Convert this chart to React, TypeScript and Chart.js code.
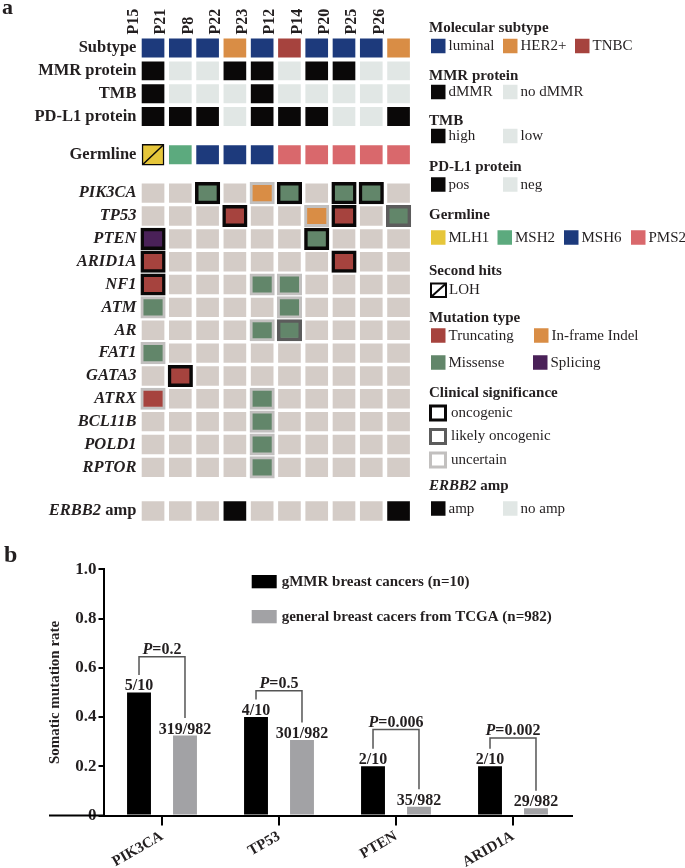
import React, { useEffect, useRef } from 'react';
import { Chart, registerables } from 'chart.js';

Chart.register(...registerables);

const FONT = '"Liberation Serif", "Times New Roman", Times, serif';
const INK = '#231f20';

// ---------------- Panel a data ----------------
const patients = ['P15', 'P21', 'P8', 'P22', 'P23', 'P12', 'P14', 'P20', 'P25', 'P26'];
const subtype = ['luminal', 'luminal', 'luminal', 'HER2+', 'luminal', 'TNBC', 'luminal', 'luminal', 'luminal', 'HER2+'];
const mmrProtein = ['dMMR', 'no dMMR', 'no dMMR', 'dMMR', 'dMMR', 'no dMMR', 'dMMR', 'dMMR', 'no dMMR', 'no dMMR'];
const tmb = ['high', 'low', 'low', 'low', 'high', 'low', 'low', 'low', 'low', 'low'];
const pdl1 = ['pos', 'pos', 'pos', 'neg', 'pos', 'pos', 'pos', 'neg', 'neg', 'pos'];
const germline = ['MLH1', 'MSH2', 'MSH6', 'MSH6', 'MSH6', 'PMS2', 'PMS2', 'PMS2', 'PMS2', 'PMS2'];
const secondHitLOH = ['P15'];
const genes = ['PIK3CA', 'TP53', 'PTEN', 'ARID1A', 'NF1', 'ATM', 'AR', 'FAT1', 'GATA3', 'ATRX', 'BCL11B', 'POLD1', 'RPTOR'];
// [gene, patient, mutation type, clinical significance]
const mutations: [string, string, string, string][] = [
  ['PIK3CA', 'P8', 'Missense', 'oncogenic'],
  ['PIK3CA', 'P23', 'In-frame Indel', 'uncertain'],
  ['PIK3CA', 'P12', 'Missense', 'oncogenic'],
  ['PIK3CA', 'P20', 'Missense', 'oncogenic'],
  ['PIK3CA', 'P25', 'Missense', 'oncogenic'],
  ['TP53', 'P22', 'Truncating', 'oncogenic'],
  ['TP53', 'P14', 'In-frame Indel', 'uncertain'],
  ['TP53', 'P20', 'Truncating', 'oncogenic'],
  ['TP53', 'P26', 'Missense', 'likely oncogenic'],
  ['PTEN', 'P15', 'Splicing', 'oncogenic'],
  ['PTEN', 'P14', 'Missense', 'oncogenic'],
  ['ARID1A', 'P15', 'Truncating', 'oncogenic'],
  ['ARID1A', 'P20', 'Truncating', 'oncogenic'],
  ['NF1', 'P15', 'Truncating', 'oncogenic'],
  ['NF1', 'P23', 'Missense', 'uncertain'],
  ['NF1', 'P12', 'Missense', 'uncertain'],
  ['ATM', 'P15', 'Missense', 'uncertain'],
  ['ATM', 'P12', 'Missense', 'uncertain'],
  ['AR', 'P23', 'Missense', 'uncertain'],
  ['AR', 'P12', 'Missense', 'likely oncogenic'],
  ['FAT1', 'P15', 'Missense', 'uncertain'],
  ['GATA3', 'P21', 'Truncating', 'oncogenic'],
  ['ATRX', 'P15', 'Truncating', 'uncertain'],
  ['ATRX', 'P23', 'Missense', 'uncertain'],
  ['BCL11B', 'P23', 'Missense', 'uncertain'],
  ['POLD1', 'P23', 'Missense', 'uncertain'],
  ['RPTOR', 'P23', 'Missense', 'uncertain'],
];
const erbb2Amp = ['no amp', 'no amp', 'no amp', 'amp', 'no amp', 'no amp', 'no amp', 'no amp', 'no amp', 'amp'];

// ---------------- Panel b data ----------------
const genesB = ['PIK3CA', 'TP53', 'PTEN', 'ARID1A'];
const gmmrMutated = [5, 4, 2, 2];
const gmmrTotal = 10;
const tcgaMutated = [319, 301, 35, 29];
const tcgaTotal = 982;
const pValues = ['0.2', '0.5', '0.006', '0.002'];
const bracketLevels = [0.645, 0.507, 0.349, 0.315];
const seriesNames = ['gMMR breast cancers (n=10)', 'general breast cacers from TCGA (n=982)'];

// ---------------- Styles ----------------
const BLACK = '#0a0808';
const LIGHT = '#e1e7e5';
const EMPTY = '#d4ccc7';
const subtypeColors: Record<string, string> = { luminal: '#1d3a7c', 'HER2+': '#d98d45', TNBC: '#a6433e' };
const mmrColors: Record<string, string> = { dMMR: BLACK, 'no dMMR': LIGHT };
const tmbColors: Record<string, string> = { high: BLACK, low: LIGHT };
const pdl1Colors: Record<string, string> = { pos: BLACK, neg: LIGHT };
const germlineColors: Record<string, string> = { MLH1: '#e6c63a', MSH2: '#5caa7e', MSH6: '#1d3a7c', PMS2: '#d9686c' };
const mutationColors: Record<string, string> = { Truncating: '#a6433e', 'In-frame Indel': '#d98d45', Missense: '#62866a', Splicing: '#4a2158' };
const significanceBorders: Record<string, string> = { oncogenic: BLACK, 'likely oncogenic': '#5c5c5c', uncertain: '#c2c0bf' };
const ampCellColors: Record<string, string> = { amp: BLACK, 'no amp': EMPTY };
const ampLegendColors: Record<string, string> = { amp: BLACK, 'no amp': LIGHT };
const GRAY_BAR = '#a2a2a5';

// layout of rows (row index units, top to bottom)
const TOP_ROW_POS = [0, 1, 2, 3, 4.67];
const GENE_ROW_START = 6.35;
const ERBB2_ROW_POS = 20.26;
const ROW_POS = [...TOP_ROW_POS, ...genes.map((_, i) => GENE_ROW_START + i), ERBB2_ROW_POS];
const ROW_LABELS = ['Subtype', 'MMR protein', 'TMB', 'PD-L1 protein', 'Germline', ...genes, 'ERBB2 amp'];

function buildCells() {
  const normal = { data: [] as any[], bg: [] as string[], bc: [] as string[], bw: [] as number[] };
  const bordered = { data: [] as any[], bg: [] as string[], bc: [] as string[], bw: [] as number[] };
  const lohIdx: number[] = [];
  const add = (t: any, p: string, pos: number, half: number, fill: string, border: string, w: number) => {
    t.data.push({ x: p, y: [pos - half, pos + half] });
    t.bg.push(fill);
    t.bc.push(border);
    t.bw.push(w);
  };
  const topRows: [string[], Record<string, string>][] = [
    [subtype, subtypeColors],
    [mmrProtein, mmrColors],
    [tmb, tmbColors],
    [pdl1, pdl1Colors],
  ];
  topRows.forEach(([vals, cmap], r) => {
    patients.forEach((p, i) => add(normal, p, TOP_ROW_POS[r], 0.4, cmap[vals[i]], cmap[vals[i]], 0));
  });
  patients.forEach((p, i) => {
    if (secondHitLOH.includes(p)) {
      lohIdx.push(normal.data.length);
      add(normal, p, TOP_ROW_POS[4], 0.46, germlineColors[germline[i]], BLACK, 1.5);
    } else {
      add(normal, p, TOP_ROW_POS[4], 0.4, germlineColors[germline[i]], germlineColors[germline[i]], 0);
    }
  });
  genes.forEach((g, gi) => {
    const pos = GENE_ROW_START + gi;
    patients.forEach((p) => {
      const m = mutations.find((mm) => mm[0] === g && mm[1] === p);
      if (!m) add(normal, p, pos, 0.41, EMPTY, EMPTY, 0);
      else add(bordered, p, pos, 0.47, mutationColors[m[2]], significanceBorders[m[3]], m[3] === 'uncertain' ? 3 : 3.5);
    });
  });
  patients.forEach((p, i) => add(normal, p, ERBB2_ROW_POS, 0.41, ampCellColors[erbb2Amp[i]], ampCellColors[erbb2Amp[i]], 0));
  return { normal, bordered, lohIdx };
}

function richText(ctx: CanvasRenderingContext2D, x: number, y: number, parts: [string, boolean][], size: number, align: 'left' | 'right') {
  const fonts = parts.map(([, it]) => `${it ? 'italic ' : ''}bold ${size}px ${FONT}`);
  const widths = parts.map(([t], i) => { ctx.font = fonts[i]; return ctx.measureText(t).width; });
  const total = widths.reduce((a, b) => a + b, 0);
  let cx = align === 'left' ? x : x - total;
  ctx.textAlign = 'left';
  parts.forEach(([t], i) => { ctx.font = fonts[i]; ctx.fillText(t, cx, y); cx += widths[i]; });
}

function drawLegendA(ctx: CanvasRenderingContext2D) {
  ctx.save();
  ctx.fillStyle = INK;
  ctx.textBaseline = 'middle';
  const title = (t: string, y: number) => {
    ctx.font = `bold 15px ${FONT}`; ctx.fillStyle = INK; ctx.textAlign = 'left';
    ctx.fillText(t, 429, y);
  };
  const sw = (x: number, y: number, color: string, label: string) => {
    ctx.fillStyle = color; ctx.fillRect(x, y - 7.25, 14.5, 14.5);
    ctx.font = `15px ${FONT}`; ctx.fillStyle = INK; ctx.textAlign = 'left';
    ctx.fillText(label, x + 17.5, y + 0.5);
  };
  const box = (y: number, color: string, label: string) => {
    ctx.strokeStyle = color; ctx.lineWidth = 3;
    ctx.strokeRect(429 + 1.5, y - 8.5 + 1.5, 15, 14);
    ctx.font = `15px ${FONT}`; ctx.fillStyle = INK; ctx.textAlign = 'left';
    ctx.fillText(label, 451, y);
  };
  title('Molecular subtype', 28);
  sw(431, 46, subtypeColors.luminal, 'luminal');
  sw(503, 46, subtypeColors['HER2+'], 'HER2+');
  sw(575, 46, subtypeColors.TNBC, 'TNBC');
  title('MMR protein', 76);
  sw(431, 92, mmrColors.dMMR, 'dMMR');
  sw(503, 92, mmrColors['no dMMR'], 'no dMMR');
  title('TMB', 121.5);
  sw(431, 136, tmbColors.high, 'high');
  sw(503, 136, tmbColors.low, 'low');
  title('PD-L1 protein', 167);
  sw(431, 184.5, pdl1Colors.pos, 'pos');
  sw(503, 184.5, pdl1Colors.neg, 'neg');
  title('Germline', 215.5);
  sw(431, 237.5, germlineColors.MLH1, 'MLH1');
  sw(497.5, 237.5, germlineColors.MSH2, 'MSH2');
  sw(564, 237.5, germlineColors.MSH6, 'MSH6');
  sw(631, 237.5, germlineColors.PMS2, 'PMS2');
  title('Second hits', 271.5);
  ctx.strokeStyle = BLACK; ctx.lineWidth = 2;
  ctx.strokeRect(431, 283.5, 15, 13.5);
  ctx.beginPath(); ctx.moveTo(431, 297); ctx.lineTo(446, 283.5); ctx.stroke();
  ctx.font = `15px ${FONT}`; ctx.fillStyle = INK; ctx.fillText('LOH', 449, 290.5);
  title('Mutation type', 318);
  sw(431, 335.5, mutationColors.Truncating, 'Truncating');
  sw(534, 335.5, mutationColors['In-frame Indel'], 'In-frame Indel');
  sw(431, 362.5, mutationColors.Missense, 'Missense');
  sw(533, 362.5, mutationColors.Splicing, 'Splicing');
  title('Clinical significance', 393);
  box(413, significanceBorders.oncogenic, 'oncogenic');
  box(436.5, significanceBorders['likely oncogenic'], 'likely oncogenic');
  box(460, significanceBorders.uncertain, 'uncertain');
  ctx.fillStyle = INK;
  richText(ctx, 429, 486, [['ERBB2', true], [' amp', false]], 15, 'left');
  sw(431, 508.5, ampLegendColors.amp, 'amp');
  sw(503, 508.5, ampLegendColors['no amp'], 'no amp');
  ctx.restore();
}

function makeConfigA(): any {
  const { normal, bordered, lohIdx } = buildCells();
  const plugin = {
    id: 'panelA',
    afterDatasetsDraw(chart: any) {
      const ctx = chart.ctx as CanvasRenderingContext2D;
      const meta = chart.getDatasetMeta(0);
      ctx.save();
      ctx.strokeStyle = BLACK; ctx.lineWidth = 1.5;
      lohIdx.forEach((i) => {
        const el = meta.data[i];
        const { x, y, base, width } = el.getProps(['x', 'y', 'base', 'width'], true);
        const top = Math.min(y, base), bot = Math.max(y, base);
        ctx.beginPath(); ctx.moveTo(x - width / 2 + 1, bot - 1); ctx.lineTo(x + width / 2 - 1, top + 1); ctx.stroke();
      });
      ctx.restore();
    },
    afterDraw(chart: any) {
      const ctx = chart.ctx as CanvasRenderingContext2D;
      ctx.save();
      ctx.fillStyle = INK; ctx.textBaseline = 'alphabetic'; ctx.textAlign = 'left';
      ctx.font = `bold 22px ${FONT}`;
      ctx.fillText('a', 2, 13.5);
      const ys = chart.scales.y;
      const yPix = ys.getPixelForValue(ERBB2_ROW_POS);
      ctx.textBaseline = 'middle';
      richText(ctx, ys.right - 3, yPix, [['ERBB2', true], [' amp', false]], 16.5, 'right');
      ctx.restore();
      drawLegendA(ctx);
    },
  };
  return {
    type: 'bar',
    data: {
      labels: patients,
      datasets: [
        { label: 'cells', data: normal.data, backgroundColor: normal.bg, borderColor: normal.bc, borderWidth: normal.bw, borderSkipped: false, grouped: false, barThickness: 22 },
        { label: 'mutations', data: bordered.data, backgroundColor: bordered.bg, borderColor: bordered.bc, borderWidth: bordered.bw, borderSkipped: false, grouped: false, barThickness: 24.5 },
      ],
    },
    options: {
      animation: false,
      responsive: false,
      maintainAspectRatio: false,
      layout: { padding: { left: 0, right: 272.8, top: 0, bottom: 7.8 } },
      plugins: { legend: { display: false }, tooltip: { enabled: false } },
      scales: {
        x: {
          type: 'category', position: 'top', offset: true,
          grid: { display: false, drawTicks: false }, border: { display: false },
          ticks: { autoSkip: false, minRotation: 90, maxRotation: 90, padding: 2, color: INK, font: { family: FONT, size: 16, weight: 'bold' } },
          afterFit: (s: any) => { s.height = 36.6; s.paddingLeft = 0; s.paddingRight = 0; },
        },
        y: {
          type: 'linear', reverse: true, min: -0.5, max: 20.75,
          grid: { display: false, drawTicks: false }, border: { display: false },
          afterBuildTicks: (s: any) => { s.ticks = ROW_POS.map((v) => ({ value: v })); },
          ticks: {
            autoSkip: false, padding: 3, color: INK,
            callback: (_v: any, i: number) => (i === ROW_LABELS.length - 1 ? '' : ROW_LABELS[i]),
            font: (c: any) => ({ family: FONT, size: 16.5, weight: 'bold', style: c.index >= 5 ? 'italic' : 'normal' }),
          },
          afterFit: (s: any) => { s.width = 139.4; s.paddingTop = 0; s.paddingBottom = 0; },
        },
      },
    },
    plugins: [plugin],
  };
}

function makeConfigB(): any {
  const plugin = {
    id: 'panelB',
    afterDraw(chart: any) {
      const ctx = chart.ctx as CanvasRenderingContext2D;
      const ys = chart.scales.y;
      const area = chart.chartArea;
      ctx.save();
      // panel letter
      ctx.fillStyle = INK; ctx.textAlign = 'left'; ctx.textBaseline = 'alphabetic';
      ctx.font = `bold 24px ${FONT}`;
      ctx.fillText('b', 4, 31.5);
      // x axis line extended to the left
      const y0 = ys.getPixelForValue(0);
      ctx.strokeStyle = '#000'; ctx.lineWidth = 2;
      ctx.beginPath(); ctx.moveTo(49, y0); ctx.lineTo(area.left, y0); ctx.stroke();
      // value labels
      const m0 = chart.getDatasetMeta(0), m1 = chart.getDatasetMeta(1);
      ctx.font = `bold 16px ${FONT}`; ctx.textAlign = 'center'; ctx.fillStyle = INK;
      genesB.forEach((_, i) => {
        ctx.fillText(`${gmmrMutated[i]}/${gmmrTotal}`, m0.data[i].x, m0.data[i].y - 2);
        ctx.fillText(`${tcgaMutated[i]}/${tcgaTotal}`, m1.data[i].x, m1.data[i].y - 2);
      });
      // brackets with p values
      ctx.strokeStyle = '#555'; ctx.lineWidth = 1.5;
      genesB.forEach((_, i) => {
        const a = m0.data[i], b = m1.data[i];
        const top = ys.getPixelForValue(bracketLevels[i]);
        ctx.beginPath();
        ctx.moveTo(a.x, a.y - 17.5); ctx.lineTo(a.x, top); ctx.lineTo(b.x, top); ctx.lineTo(b.x, b.y - 17.5);
        ctx.stroke();
        ctx.fillStyle = INK; ctx.textBaseline = 'alphabetic';
        const parts: [string, boolean][] = [['P', true], [`=${pValues[i]}`, false]];
        ctx.font = `italic bold 16px ${FONT}`;
        const w1 = ctx.measureText('P').width;
        ctx.font = `bold 16px ${FONT}`;
        const w2 = ctx.measureText(parts[1][0]).width;
        richText(ctx, (a.x + b.x) / 2 - (w1 + w2) / 2, top - 3, parts, 16, 'left');
      });
      // legend
      ctx.fillStyle = '#000'; ctx.fillRect(251.7, 45, 25, 13.3);
      ctx.fillStyle = GRAY_BAR; ctx.fillRect(251.7, 80, 25, 13.3);
      ctx.fillStyle = INK; ctx.font = `bold 15px ${FONT}`; ctx.textAlign = 'left'; ctx.textBaseline = 'middle';
      ctx.fillText(seriesNames[0], 281.7, 51.7);
      ctx.fillText(seriesNames[1], 281.7, 86.7);
      ctx.restore();
    },
  };
  return {
    type: 'bar',
    data: {
      labels: genesB,
      datasets: [
        { label: seriesNames[0], data: gmmrMutated.map((v) => v / gmmrTotal), backgroundColor: '#000', categoryPercentage: 0.786, barPercentage: 0.52 },
        { label: seriesNames[1], data: tcgaMutated.map((v) => v / tcgaTotal), backgroundColor: GRAY_BAR, categoryPercentage: 0.786, barPercentage: 0.52 },
      ],
    },
    options: {
      animation: false,
      responsive: false,
      maintainAspectRatio: false,
      layout: { padding: { left: 0, right: 113.5, top: 39.3, bottom: 0 } },
      plugins: { legend: { display: false }, tooltip: { enabled: false } },
      scales: {
        x: {
          grid: { display: true, drawOnChartArea: false, drawTicks: true, tickLength: 10, offset: false, color: '#000', lineWidth: 2 },
          border: { display: true, color: '#000', width: 2 },
          ticks: { autoSkip: false, minRotation: 30, maxRotation: 30, padding: 2, color: INK, font: { family: FONT, size: 15, weight: 'bold' } },
          afterFit: (s: any) => { s.height = 52.5; },
        },
        y: {
          min: 0, max: 1,
          grid: { display: true, drawOnChartArea: false, drawTicks: true, tickLength: 5, color: '#000', lineWidth: 2 },
          border: { display: true, color: '#000', width: 2 },
          ticks: { stepSize: 0.2, padding: 2, color: INK, font: { family: FONT, size: 17, weight: 'bold' }, callback: (v: any) => (Number(v) === 0 ? '0' : Number(v).toFixed(1)) },
          title: { display: true, text: 'Somatic mutation rate', color: INK, font: { family: FONT, size: 15, weight: 'bold' }, padding: { top: 46, bottom: 0 } },
          afterFit: (s: any) => { s.width = 103.5; },
        },
      },
    },
    plugins: [plugin],
  };
}

export default function App() {
  const refA = useRef<HTMLCanvasElement>(null);
  const refB = useRef<HTMLCanvasElement>(null);
  useEffect(() => {
    const a = new Chart(refA.current as HTMLCanvasElement, makeConfigA());
    const b = new Chart(refB.current as HTMLCanvasElement, makeConfigB());
    return () => { a.destroy(); b.destroy(); };
  }, []);
  return (
    <div style={{ position: 'absolute', left: 0, top: 0, width: 685, height: 868, background: '#fff' }}>
      <canvas ref={refA} width={685} height={530} style={{ position: 'absolute', left: 0, top: 0, width: 685, height: 530 }} />
      <canvas ref={refB} width={685} height={338} style={{ position: 'absolute', left: 0, top: 530, width: 685, height: 338 }} />
    </div>
  );
}
